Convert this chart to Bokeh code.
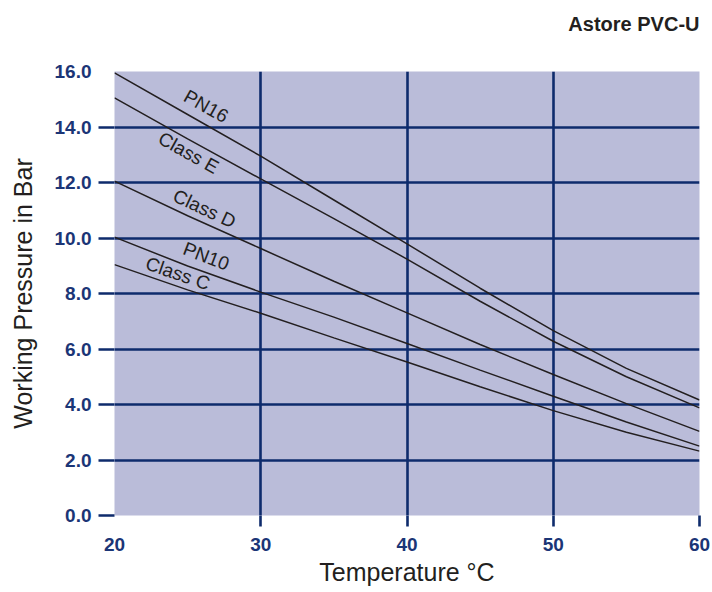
from bokeh.plotting import figure
from bokeh.models import FixedTicker, Range1d
from bokeh.core.properties import value
from bokeh.embed import file_html
from bokeh.resources import INLINE

# ---- data ----
temps = [20, 25, 30, 35, 40, 45, 50, 55, 60]
pn16 = [15.95, 14.45, 12.95, 11.37, 9.79, 8.19, 6.66, 5.30, 4.16]
class_e = [15.05, 13.57, 12.13, 10.70, 9.24, 7.72, 6.28, 5.00, 3.88]
class_d = [12.05, 10.80, 9.62, 8.44, 7.30, 6.16, 5.08, 4.03, 3.03]
pn10 = [10.03, 8.99, 8.05, 7.15, 6.20, 5.24, 4.30, 3.37, 2.50]
class_c = [9.04, 8.13, 7.29, 6.40, 5.53, 4.64, 3.78, 3.00, 2.32]
series_names = ["PN16", "Class E", "Class D", "PN10", "Class C"]
x_ticks = [20, 30, 40, 50, 60]
y_ticks = [0, 2, 4, 6, 8, 10, 12, 14, 16]
chart_title = "Astore PVC-U"
x_title = "Temperature °C"
y_title = "Working Pressure in Bar"

series = [pn16, class_e, class_d, pn10, class_c]

# label placement (x, y in data units, angle in degrees)
label_place = {
    "PN16": (26.27, 14.75, -29.5),
    "Class E": (25.06, 13.07, -29.0),
    "Class D": (26.15, 11.06, -25.0),
    "PN10": (26.27, 9.34, -21.0),
    "Class C": (24.33, 8.72, -19.0),
}

NAVY = "#0e2b6c"
LABEL_NAVY = "#1b3576"
SHADE = "#babcd9"
INK = "#231f20"
FONT = "Liberation Sans"

p = figure(width=710, height=591,
           x_range=Range1d(20, 60), y_range=Range1d(0, 16),
           output_backend="svg", toolbar_location=None,
           min_border_left=114, min_border_right=11,
           min_border_top=71, min_border_bottom=76,
           background_fill_color=SHADE, border_fill_color="white")
p.outline_line_color = None

# title: a trailing empty line lifts the visible line away from the plot
p.title.text = chart_title + "\n "
p.title.align = "right"
p.title.offset = 0
p.title.standoff = 22
p.title.text_line_height = 1.15
p.title.text_font = FONT
p.title.text_font_size = "20px"
p.title.text_font_style = "bold"
p.title.text_color = INK

# grids
p.xgrid.ticker = FixedTicker(ticks=[30, 40, 50, 60])
p.ygrid.ticker = FixedTicker(ticks=[0, 2, 4, 6, 8, 10, 12, 14])
for g in (p.xgrid, p.ygrid):
    g.grid_line_color = NAVY
    g.grid_line_width = 2.6
    g.grid_line_alpha = 1.0

# x axis
xa = p.xaxis[0]
xa.ticker = FixedTicker(ticks=x_ticks, minor_ticks=[30, 40, 50, 60])
xa.axis_line_color = None
xa.major_tick_line_color = None
xa.major_tick_out = 11
xa.major_tick_in = 0
xa.minor_tick_line_color = NAVY
xa.minor_tick_line_width = 2.6
xa.minor_tick_out = 11
xa.minor_tick_in = 0
xa.major_label_standoff = 11
xa.major_label_text_font = FONT
xa.major_label_text_font_size = "19px"
xa.major_label_text_font_style = "bold"
xa.major_label_text_color = LABEL_NAVY
xa.axis_label = x_title
xa.axis_label_standoff = 4
xa.axis_label_text_font = FONT
xa.axis_label_text_font_size = "25px"
xa.axis_label_text_font_style = "normal"
xa.axis_label_text_color = INK

# y axis
ya = p.yaxis[0]
ya.ticker = FixedTicker(ticks=y_ticks, minor_ticks=[0, 2, 4, 6, 8, 10, 12, 14])
ya.axis_line_color = None
ya.major_tick_line_color = None
ya.major_tick_out = 16
ya.major_tick_in = 0
ya.minor_tick_line_color = NAVY
ya.minor_tick_line_width = 2.6
ya.minor_tick_out = 16
ya.minor_tick_in = 0
ya.major_label_standoff = 7
ya.major_label_overrides = {t: f"{t:.1f}" for t in y_ticks}
ya.major_label_text_font = FONT
ya.major_label_text_font_size = "19px"
ya.major_label_text_font_style = "bold"
ya.major_label_text_color = LABEL_NAVY
ya.axis_label = y_title
ya.axis_label_standoff = 15
ya.axis_label_text_font = FONT
ya.axis_label_text_font_size = "25px"
ya.axis_label_text_font_style = "normal"
ya.axis_label_text_color = INK

# curves
for name, ys in zip(series_names, series):
    p.line(temps, ys, line_color=INK, line_width=1.5)
    lx, ly, ang = label_place[name]
    p.text(x=[lx], y=[ly], text=[name], angle=ang, angle_units="deg",
           text_font=value(FONT), text_font_size="19px", text_color=INK,
           text_align="center", text_baseline="middle")

open("out.html", "w").write(file_html(p, INLINE))
